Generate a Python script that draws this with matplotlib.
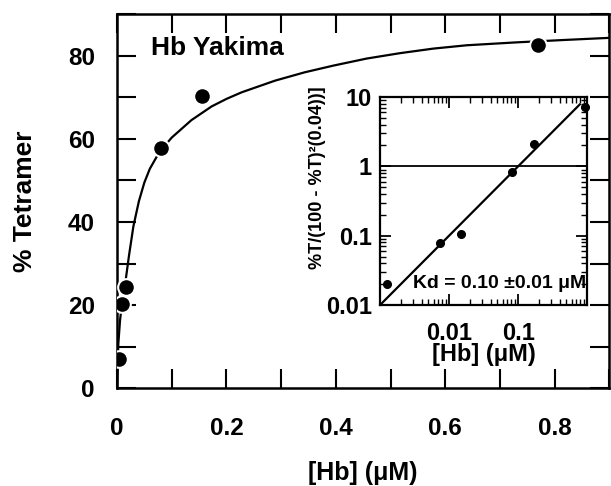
import numpy as np
import matplotlib
matplotlib.use('Agg')
import matplotlib.pyplot as plt
from matplotlib.ticker import LogLocator, NullFormatter, MultipleLocator

plt.rcParams['font.family'] = ['Liberation Sans', 'DejaVu Sans']
plt.rcParams['font.weight'] = 'bold'

#main panel data
hb_main = [0.0035, 0.0085, 0.0158, 0.0798, 0.155, 0.770]
tetramer = [7.1, 20.3, 24.4, 57.8, 70.4, 82.6]

#fitted curve, sampled by eye along the drawn line
curve_x = [0.0, 0.0024, 0.0055, 0.010, 0.0158, 0.022, 0.030, 0.040, 0.050, 0.060,
           0.073, 0.085, 0.100, 0.136, 0.173, 0.200, 0.228, 0.289, 0.343, 0.395,
           0.456, 0.517, 0.578, 0.639, 0.730, 0.821, 0.902]
curve_y = [0.0, 10.7, 16.3, 21.5, 26.0, 32.0, 39.0, 45.0, 49.5, 52.8,
           55.8, 58.0, 60.3, 64.5, 67.8, 69.6, 71.2, 74.0, 76.0, 77.6,
           79.3, 80.6, 81.7, 82.5, 83.2, 83.8, 84.3]

#inset (log-log) data
hb_inset = [0.00128, 0.0073, 0.0148, 0.082, 0.167, 0.935]
ratio_inset = [0.020, 0.078, 0.106, 0.82, 2.08, 7.1]
fit_x = [0.001, 0.78]
fit_y = [0.01, 7.8]

fig = plt.figure(figsize=(6.11, 4.86), dpi=100)

#main axes
ax = fig.add_axes([0.1915, 0.201, 0.806, 0.770])
ax.plot(curve_x, curve_y, '-', color='black', lw=1.6, zorder=2)
ax.plot(hb_main, tetramer, 'o', color='black', ms=12, mec='white', mew=1.5, zorder=3)
ax.set_xlim(0, 0.9)
ax.set_ylim(0, 90)
ax.xaxis.set_minor_locator(MultipleLocator(0.1))
ax.yaxis.set_major_locator(MultipleLocator(20))
ax.yaxis.set_minor_locator(MultipleLocator(10))
ax.set_xticks([0, 0.2, 0.4, 0.6, 0.8])
ax.set_xticklabels(['0', '0.2', '0.4', '0.6', '0.8'])
ax.tick_params(which='both', direction='in', top=True, right=True, length=14, width=1.5)
ax.tick_params(axis='x', which='major', pad=21, labelsize=17.5)
ax.tick_params(axis='y', which='major', pad=16, labelsize=17.5)
for s in ax.spines.values():
    s.set_linewidth(1.8)
ax.set_xlabel('[Hb] (\u03bcM)', fontsize=18, fontweight='bold', labelpad=15)
ax.set_ylabel('% Tetramer', fontsize=19, fontweight='bold', labelpad=22)
ax.text(0.063, 81.8, 'Hb Yakima', fontsize=19, fontweight='bold', va='center', ha='left')

#inset axes
ins = fig.add_axes([0.622, 0.3724, 0.339, 0.428])
ins.set_xscale('log')
ins.set_yscale('log')
ins.set_xlim(0.001, 1)
ins.set_ylim(0.01, 10)
ins.axhline(1, color='black', lw=1.3)
ins.plot(fit_x, fit_y, '-', color='black', lw=1.6)
ins.plot(hb_inset, ratio_inset, 'o', color='black', ms=5.5, clip_on=False)
ins.set_xticks([0.01, 0.1])
ins.set_xticklabels(['0.01', '0.1'])
ins.xaxis.set_minor_locator(LogLocator(base=10, subs=np.arange(2, 10), numticks=12))
ins.xaxis.set_minor_formatter(NullFormatter())
ins.set_yticks([0.01, 0.1, 1, 10])
ins.set_yticklabels(['0.01', '0.1', '1', '10'])
ins.yaxis.set_minor_locator(LogLocator(base=10, subs=np.arange(2, 10), numticks=12))
ins.yaxis.set_minor_formatter(NullFormatter())
ins.tick_params(which='major', direction='in', top=True, right=True, length=8, width=1.3, labelsize=17)
ins.tick_params(which='minor', direction='in', top=True, right=True, length=4, width=1.0)
ins.tick_params(axis='x', which='major', pad=12)
ins.tick_params(axis='y', which='major', pad=6)
for s in ins.spines.values():
    s.set_linewidth(1.6)
ins.set_xlabel('[Hb] (\u03bcM)', fontsize=17, fontweight='bold', labelpad=-1)
ins.text(0.16, 0.104, 'Kd = 0.10 \u00b10.01 \u03bcM', transform=ins.transAxes,
         fontsize=14, fontweight='bold', va='center', ha='left')
fig.text(318 / 611, 1 - 178 / 486, '%T/(100 - %T)\u00b2(0.04))]', rotation=90,
         fontsize=13, fontweight='bold', ha='center', va='center')

plt.savefig('out.png', dpi=100)
